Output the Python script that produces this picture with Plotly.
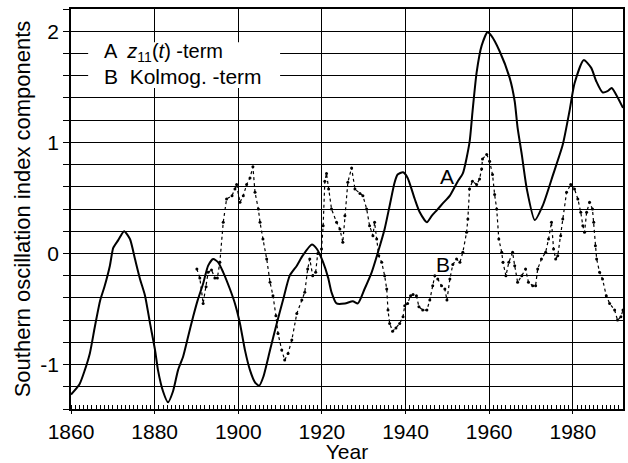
import plotly.graph_objects as go

# -------------------------
# DATA
# -------------------------
years_a = [1860, 1862, 1863.3, 1864.5, 1865.7, 1867, 1868, 1869.3, 1870.1, 1871.3,
           1872.7, 1874.1, 1875.3, 1876.5, 1877.7, 1878.9, 1880.1, 1880.8, 1882, 1883.2,
           1884.4, 1885.6, 1886.8, 1888, 1889.2, 1890.3, 1891.6, 1892.8, 1894, 1895.2,
           1896.4, 1898, 1899.2, 1900.4, 1901.6, 1902.8, 1904, 1905, 1906, 1907.6,
           1909.2, 1910.7, 1912.3, 1914, 1915.4, 1917.6, 1918.8, 1920.3, 1921.5, 1922.3,
           1923.5, 1925.5, 1927.4, 1928.6, 1930.2, 1931.9, 1933.4, 1935, 1936.2, 1937.4,
           1938.1, 1939.4, 1940.5, 1942.2, 1943.4, 1945.1, 1946.3, 1947.5, 1948.9, 1950.6,
           1952.5, 1953.7, 1955.3, 1956, 1957, 1958.2, 1959.6, 1960.5, 1962.5, 1964.9,
           1966.1, 1966.8, 1967.8, 1969, 1970.9, 1972.8, 1975.2, 1977.6, 1979.2, 1980.4,
           1982.6, 1984.4, 1985.6, 1987.1, 1988.3, 1989.3, 1990.5, 1992]
term_a = [-1.27, -1.18, -1.05, -0.9, -0.66, -0.42, -0.3, -0.11, 0.05, 0.12,
          0.2, 0.13, -0.05, -0.23, -0.38, -0.63, -0.87, -1.05, -1.24, -1.34,
          -1.24, -1.05, -0.93, -0.75, -0.57, -0.42, -0.27, -0.11, -0.05, -0.08,
          -0.17, -0.32, -0.45, -0.63, -0.87, -1.05, -1.16, -1.19, -1.11, -0.87,
          -0.63, -0.42, -0.2, -0.11, -0.02, 0.08, 0.04, -0.08, -0.22, -0.35,
          -0.45, -0.45, -0.43, -0.45, -0.32, -0.17, 0.01, 0.22, 0.43, 0.64,
          0.71, 0.73, 0.68, 0.49, 0.37, 0.28, 0.34, 0.39, 0.45, 0.52,
          0.65, 0.72, 1.0, 1.27, 1.63, 1.87, 1.99, 1.96, 1.82, 1.58,
          1.37, 1.13, 0.89, 0.58, 0.3, 0.43, 0.7, 0.98, 1.28, 1.53,
          1.74, 1.67, 1.55, 1.45, 1.46, 1.49, 1.42, 1.31]

years_b = [1890.1, 1890.8, 1891.6, 1892.3, 1892.8, 1893.6, 1894.4, 1895, 1895.6, 1896.4,
           1897.2, 1898.5, 1899.2, 1899.6, 1900.4, 1901.2, 1902, 1902.8, 1903.5, 1904,
           1904.8, 1905.2, 1905.9, 1906.8, 1907.6, 1908.3, 1909, 1909.5, 1910.4, 1911.1,
           1911.9, 1912.8, 1914, 1915.2, 1915.9, 1916.6, 1917.1, 1917.8, 1918.5, 1919,
           1919.9, 1920.3, 1920.7, 1921.1, 1921.6, 1922.3, 1923.5, 1924.3, 1925, 1925.5,
           1926.2, 1927.1, 1927.9, 1929.1, 1929.8, 1930.7, 1931.4, 1932.2, 1932.6, 1933.1,
           1933.6, 1934.3, 1935, 1935.5, 1935.8, 1936.2, 1936.9, 1937.7, 1938.6, 1939.4,
           1939.8, 1940.5, 1941.2, 1941.8, 1942.6, 1943.2, 1944.1, 1945.1, 1945.8, 1946.5,
           1947, 1947.7, 1948.6, 1949.4, 1949.9, 1950.6, 1951.3, 1952.2, 1953, 1953.7,
           1954.6, 1954.9, 1955.3, 1956, 1957, 1957.7, 1958.2, 1958.4, 1959.4, 1960.1,
           1960.8, 1961.3, 1961.8, 1962.3, 1963, 1963.3, 1964, 1964.7, 1965.6, 1966.1,
           1966.8, 1967.8, 1968.7, 1969.4, 1970.4, 1971.1, 1971.6, 1972.5, 1973.5, 1974.2,
           1974.9, 1975.4, 1975.9, 1976.4, 1977.1, 1977.6, 1978.5, 1979.5, 1980.4, 1981.2,
           1981.9, 1982.4, 1982.8, 1983.3, 1984, 1984.7, 1985, 1985.4, 1985.7, 1986.4,
           1987.1, 1988, 1988.8, 1990, 1990.7, 1991.5, 1992]
term_b = [-0.14, -0.22, -0.45, -0.3, -0.17, -0.15, -0.22, -0.22, -0.08, 0.28,
          0.49, 0.52, 0.58, 0.62, 0.46, 0.52, 0.62, 0.68, 0.78, 0.55,
          0.4, 0.28, 0.13, -0.05, -0.26, -0.38, -0.56, -0.72, -0.87, -0.96,
          -0.9, -0.78, -0.54, -0.42, -0.35, -0.14, -0.05, -0.2, -0.17, 0.0,
          0.04, 0.25, 0.65, 0.72, 0.58, 0.4, 0.28, 0.22, 0.1, 0.34,
          0.64, 0.77, 0.58, 0.54, 0.52, 0.4, 0.25, 0.16, 0.28, 0.13,
          -0.02, -0.08, -0.2, -0.32, -0.51, -0.63, -0.7, -0.67, -0.63, -0.57,
          -0.47, -0.45, -0.38, -0.37, -0.38, -0.48, -0.51, -0.51, -0.42, -0.29,
          -0.2, -0.23, -0.29, -0.32, -0.42, -0.23, -0.1, -0.05, -0.08, 0.01,
          0.19, 0.31, 0.58, 0.65, 0.62, 0.67, 0.76, 0.85, 0.89, 0.83,
          0.71, 0.53, 0.4, 0.13, 0.01, -0.08, -0.2, -0.08, 0.01, -0.11,
          -0.26, -0.2, -0.14, -0.26, -0.29, -0.29, -0.14, -0.05, 0.01, 0.13,
          0.28, 0.04, -0.05, -0.02, 0.16, 0.31, 0.55, 0.62, 0.58, 0.49,
          0.37, 0.25, 0.19, 0.37, 0.46, 0.4, 0.28, 0.07, -0.05, -0.17,
          -0.23, -0.38, -0.45, -0.51, -0.6, -0.57, -0.51]

x_ticks = [1860, 1880, 1900, 1920, 1940, 1960, 1980]
y_grid = [-1.4, -1.2, -1.0, -0.8, -0.6, -0.4, -0.2, 0.0, 0.2, 0.4, 0.6, 0.8,
          1.0, 1.2, 1.4, 1.6, 1.8, 2.0, 2.2]
y_labels = {-1.0: "-1", 0.0: "0", 1.0: "1", 2.0: "2"}

FONT = "Liberation Sans, Arial, sans-serif"

fig = go.Figure()

# -------------------------
# CURVES
# -------------------------
fig.add_trace(go.Scatter(
    x=years_a, y=term_a, mode="lines",
    line=dict(color="black", width=2, shape="spline", smoothing=0.6),
    showlegend=False
))
fig.add_trace(go.Scatter(
    x=years_b, y=term_b, mode="lines+markers",
    line=dict(color="black", width=1.2, dash="dot"),
    marker=dict(color="black", size=3),
    showlegend=False
))

# -------------------------
# LEGEND (text over blanked grid)
# -------------------------
fig.add_shape(type="rect", layer="between", xref="x", yref="y",
              x0=1864.1, x1=1910, y0=1.49, y1=1.9,
              fillcolor="white", line=dict(width=0))
fig.add_annotation(x=1867.5, y=1.81, xanchor="left", showarrow=False,
                   text="A  <i>z</i><sub>11</sub>(<i>t</i>) -term",
                   font=dict(family=FONT, size=20, color="black"))
fig.add_annotation(x=1867.5, y=1.59, xanchor="left", showarrow=False,
                   text="B  Kolmog. -term",
                   font=dict(family=FONT, size=21, color="black"))

# curve labels
fig.add_annotation(x=1950, y=0.69, showarrow=False, text="A",
                   font=dict(family=FONT, size=21, color="black"))
fig.add_annotation(x=1949, y=-0.1, showarrow=False, text="B",
                   font=dict(family=FONT, size=21, color="black"))

fig.update_xaxes(
    range=[1860, 1992], tickvals=x_ticks, automargin=False,
    showgrid=True, gridcolor="black", gridwidth=1,
    showline=True, linecolor="black", linewidth=1.5, mirror=True,
    ticks="outside", ticklen=3, tickcolor="black",
    minor=dict(dtick=1, tick0=1860, ticks="inside", ticklen=4, tickcolor="black", showgrid=False),
    tickfont=dict(family=FONT, size=21, color="black"),
    title=dict(text="Year", font=dict(family=FONT, size=21, color="black"), standoff=0),
    zeroline=False
)
fig.update_yaxes(
    range=[-1.4, 2.2], tickvals=y_grid, automargin=False,
    ticktext=[y_labels.get(round(v, 1), "") for v in y_grid],
    showgrid=True, gridcolor="black", gridwidth=1,
    showline=True, linecolor="black", linewidth=1.5, mirror=True,
    ticks="outside", ticklen=6, tickcolor="black",
    tickfont=dict(family=FONT, size=21, color="black"),
    title=dict(text="Southern oscillation index components",
               font=dict(family=FONT, size=22, color="black"), standoff=4),
    zeroline=False
)

fig.update_layout(
    width=628, height=463, autosize=False,
    margin=dict(l=71, r=5, t=9, b=54),
    paper_bgcolor="white", plot_bgcolor="white",
)

# page body has a default 8px margin; drop it so the figure fills the window
fig.write_html("out.html", config={"displayModeBar": False},
               post_script="document.body.style.margin='0';")
